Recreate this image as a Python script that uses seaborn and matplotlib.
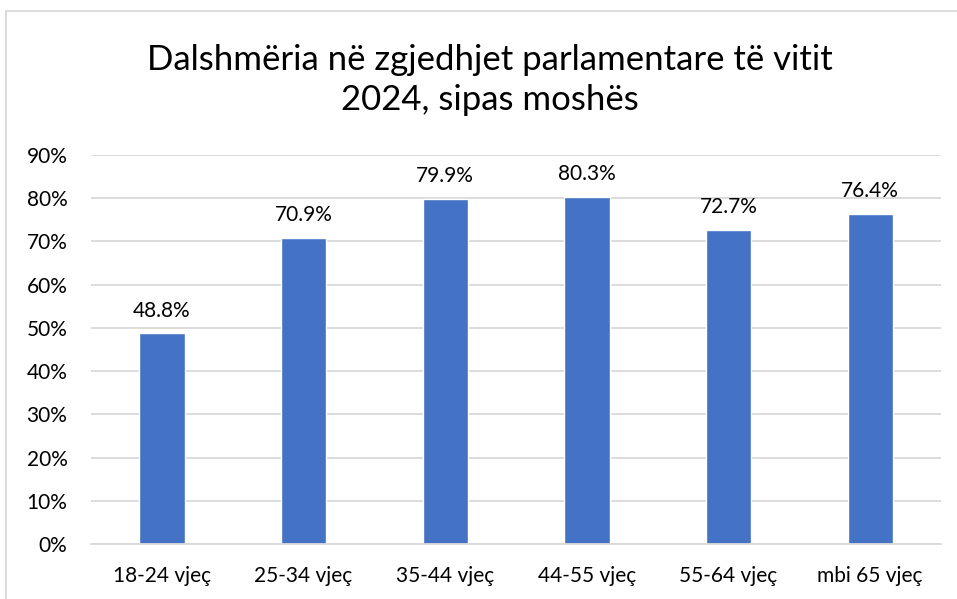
import matplotlib

matplotlib.use("Agg")
import matplotlib.pyplot as plt
import pandas as pd
import seaborn as sns
from matplotlib.patches import Rectangle

age_groups = ["18-24 vjeç", "25-34 vjeç", "35-44 vjeç", "44-55 vjeç", "55-64 vjeç", "mbi 65 vjeç"]
turnout = [48.8, 70.9, 79.9, 80.3, 72.7, 76.4]
y_ticks = [0, 10, 20, 30, 40, 50, 60, 70, 80, 90]
title = "Dalshmëria në zgjedhjet parlamentare të vitit\n2024, sipas moshës"

bar_color = "#4472C4"
grid_color = "#D9D9D9"
text_color = "#000000"

sns.set_theme(style="white")
plt.rcParams["font.family"] = ["Lato", "DejaVu Sans"]

data = pd.DataFrame({"group": age_groups, "value": turnout})

fig = plt.figure(figsize=(9.57, 5.99), dpi=100)
ax = fig.add_axes([91 / 957, 55 / 599, 850 / 957, 389 / 599])

sns.barplot(data=data, x="group", y="value", color=bar_color, width=0.32, saturation=1, ax=ax)

ax.set_ylim(0, 90)
ax.set_yticks(y_ticks)
ax.set_yticklabels([f"{t}%" for t in y_ticks])
ax.set_xlim(-0.5, len(age_groups) - 0.5)
ax.yaxis.grid(True, color=grid_color, linewidth=1.3)
ax.set_axisbelow(True)
for side in ["top", "right", "left"]:
    ax.spines[side].set_visible(False)
ax.spines["bottom"].set_color(grid_color)
ax.spines["bottom"].set_linewidth(1.3)
ax.tick_params(axis="both", length=0, labelsize=15, colors=text_color)
ax.tick_params(axis="x", pad=16)
ax.tick_params(axis="y", pad=17)
ax.set_xlabel("")
ax.set_ylabel("")

for container in ax.containers:
    ax.bar_label(container, labels=[f"{v:.1f}%" for v in turnout], padding=9, fontsize=15, color=text_color)

fig.text(490 / 957, 1 - 80 / 599, title, ha="center", va="center", fontsize=25,
         color=text_color, linespacing=1.3)

fig.patches.append(Rectangle((5.5 / 957, -0.05), 1.1, 1 - 10.5 / 599 + 0.05, transform=fig.transFigure,
                             fill=False, edgecolor=grid_color, linewidth=1.3))

fig.savefig("out.png", dpi=100)
